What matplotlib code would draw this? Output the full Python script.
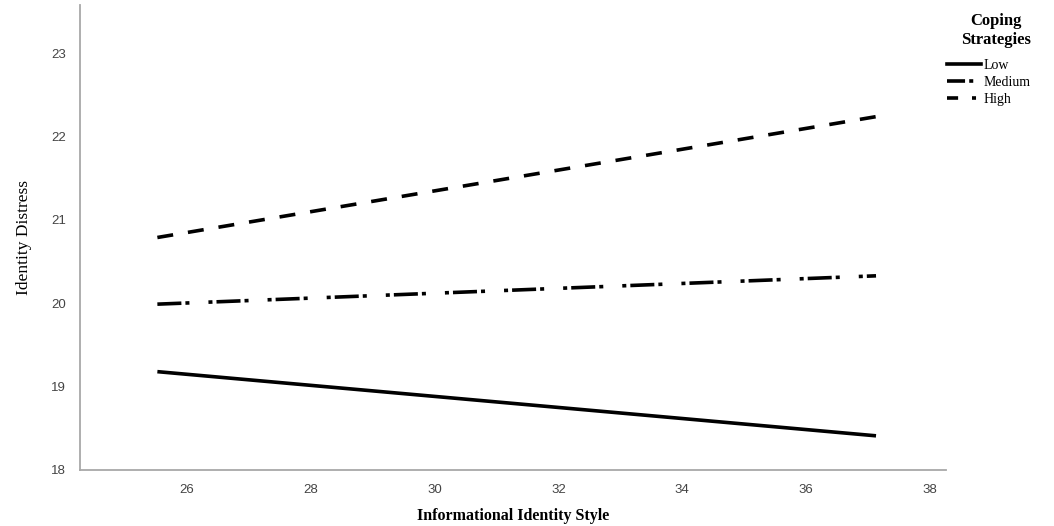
import matplotlib
matplotlib.use("Agg")
import matplotlib.pyplot as plt
from matplotlib.lines import Line2D

# Simple slopes: Identity Distress vs Informational Identity Style
x_ends = [25.52, 37.13]
low = [19.18, 18.41]
medium = [19.99, 20.33]
high = [20.79, 22.24]
groups = ["Low", "Medium", "High"]
x_ticks = [26, 28, 30, 32, 34, 36, 38]
y_ticks = [18, 19, 20, 21, 22, 23]

plt.rcParams["lines.scale_dashes"] = False
SERIF = "Liberation Serif"
SANS = "Liberation Sans"

fig = plt.figure(figsize=(10.54, 5.26), dpi=100)
ax = fig.add_axes([0.0759, 0.1065, 0.8216, 0.884])

lw = 2.6
dash_med = (0, (17.3, 2.9, 2.9, 13.7, 2.9, 2.9))
dash_high = (0, (11.5, 10.8))
ax.plot(x_ends, low, color="black", lw=lw, solid_capstyle="butt")
ax.plot(x_ends, medium, color="black", lw=lw, linestyle=dash_med)
ax.plot(x_ends, high, color="black", lw=lw, linestyle=dash_high)

ax.set_xlim(24.27, 38.26)
ax.set_ylim(18, 23.58)
ax.set_xticks(x_ticks)
ax.set_yticks(y_ticks)
ax.tick_params(length=0, labelsize=9.5, colors="#444444", pad=10)
for lab in ax.get_xticklabels() + ax.get_yticklabels():
    lab.set_family(SANS)
for side in ["top", "right"]:
    ax.spines[side].set_visible(False)
for side in ["left", "bottom"]:
    ax.spines[side].set_color("#a8a8a8")
    ax.spines[side].set_linewidth(1.3)

ax.set_xlabel("Informational Identity Style", family=SERIF, fontsize=11.5,
              fontweight="bold", labelpad=9)
ax.set_ylabel("Identity Distress", family=SERIF, fontsize=12.5, labelpad=14)

handles = [
    Line2D([], [], color="black", lw=lw),
    Line2D([], [], color="black", lw=lw, linestyle=(0, (13, 3, 2.9, 13))),
    Line2D([], [], color="black", lw=lw, linestyle=(0, (8, 10, 2.9, 10))),
]
leg = fig.legend(handles, groups, loc="upper left", bbox_to_anchor=(0.893, 0.985),
                 frameon=False, handlelength=2.5, handletextpad=0.15,
                 labelspacing=0.3, borderaxespad=0,
                 title="Coping\nStrategies",
                 prop={"family": SERIF, "size": 10})
title = leg.get_title()
title.set_fontfamily(SERIF)
title.set_fontweight("bold")
title.set_fontsize(12)
title.set_horizontalalignment("center")
title.set_multialignment("center")
leg._legend_box.align = "right"
leg._legend_box.sep = 8

fig.savefig("out.png", dpi=100)
